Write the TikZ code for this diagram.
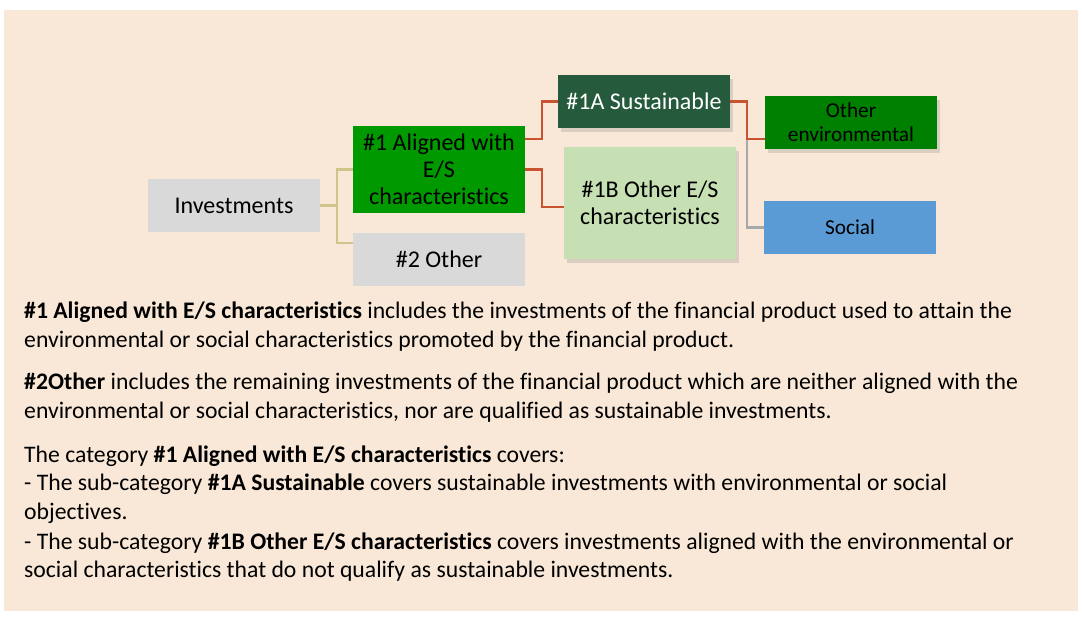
\documentclass[tikz,border=0pt]{standalone}
\usepackage{fontspec}
\setmainfont[Ligatures={NoCommon}]{Carlito}
\usetikzlibrary{shadows,calc}
\definecolor{bgc}{HTML}{F9E8D7}
\definecolor{greyb}{HTML}{D9D9D9}
\definecolor{greenA}{HTML}{009900}
\definecolor{darkA}{HTML}{255A3C}
\definecolor{envg}{HTML}{008000}
\definecolor{lightg}{HTML}{C6E0B4}
\definecolor{socb}{HTML}{5B9BD5}
\definecolor{orline}{HTML}{C9532F}
\definecolor{tanline}{HTML}{CFC58C}
\definecolor{greyline}{HTML}{A8A8A8}
\begin{document}
\begin{tikzpicture}[x=1pt,y=-1pt,
  box/.style={draw=none,inner sep=0pt,minimum width=172pt,minimum height=53pt,align=center,
    font=\fontsize{24}{27}\selectfont},
  smallbox/.style={box,font=\fontsize{21.3}{24}\selectfont},
  shad/.style={drop shadow={opacity=0.25,shadow xshift=2.5pt,shadow yshift=-3.5pt}},
  conn/.style={line width=2.2pt},
  body/.style={anchor=base west,inner sep=0pt,font=\fontsize{23.7}{28}\selectfont}]
\useasboundingbox (0,0) rectangle (1082,619);
\fill[white] (0,0) rectangle (1082,619);
\fill[bgc] (4,10) rectangle (1078,611);
% nodes
\node[box,fill=greyb] (inv) at (234,205.5) {Investments};
\node[box,fill=greenA,minimum height=87pt] (a1) at (439,169.5) {\#1 Aligned with\\E/S\\characteristics};
\node[box,fill=greyb] (o2) at (439,259.5) {\#2 Other};
\node[box,fill=darkA,text=white,shad] (s1a) at (644,101.5) {\#1A Sustainable};
\node[box,fill=lightg,minimum height=112pt,shad] (o1b) at (650,203) {\#1B Other E/S\\characteristics};
\node[smallbox,fill=envg,shad] (env) at (851,122.5) {Other\\environmental};
\node[smallbox,fill=socb] (soc) at (850,227.5) {Social};
% connectors
\draw[conn,tanline] (inv.east) -- ++(17,0) |- (a1.west);
\draw[conn,tanline] (inv.east) -- ++(17,0) |- ($(o2.west)+(0,-16.5)$);
\draw[conn,orline] ($(a1.east)+(0,-30.5)$) -- ++(17,0) |- (s1a.west);
\draw[conn,orline] (a1.east) -- ++(17,0) |- ($(o1b.west)+(0,4)$);
\draw[conn,greyline] (s1a.east) -- ++(17,0) |- (soc.west);
\draw[conn,orline] (s1a.east) -- ++(17,0) |- ($(env.west)+(0,16.5)$);
% body text
\node[body] (l1) at (24,318) {\textbf{\#1 Aligned with E/S characteristics} includes the investments of the financial product used to attain the};
\node[body] (l2) at (24,347) {environmental or social characteristics promoted by the financial product.};
\node[body] (l3) at (24,389) {\textbf{\#2Other} includes the remaining investments of the financial product which are neither aligned with the};
\node[body] (l4) at (24,418) {environmental or social characteristics, nor are qualified as sustainable investments.};
\node[body] (l5) at (24,462) {The category \textbf{\#1 Aligned with E/S characteristics} covers:};
\node[body] (l6) at (24,490) {- The sub-category \textbf{\#1A Sustainable} covers sustainable investments with environmental or social};
\node[body] (l7) at (24,519) {objectives.};
\node[body] (l8) at (24,549) {- The sub-category \textbf{\#1B Other E/S characteristics} covers investments aligned with the environmental or};
\node[body] (l9) at (24,577) {social characteristics that do not qualify as sustainable investments.};
\end{tikzpicture}
\end{document}
